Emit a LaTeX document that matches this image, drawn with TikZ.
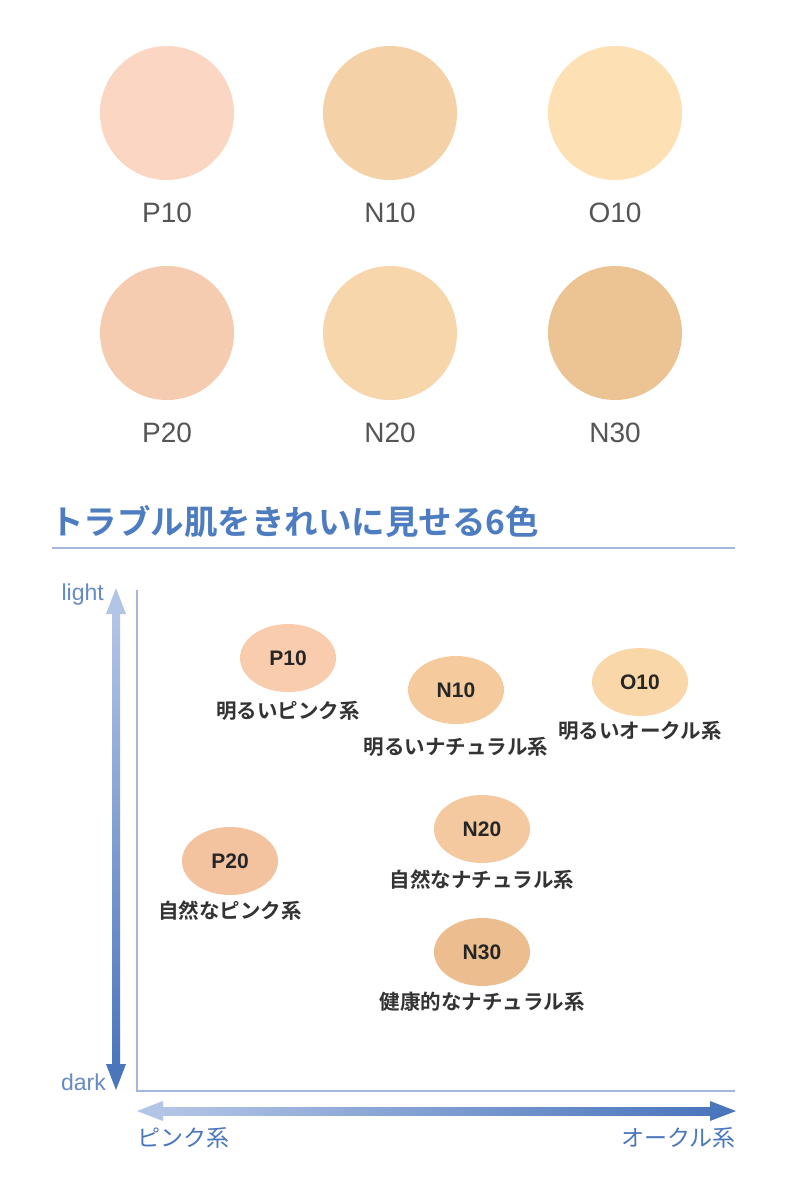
\documentclass[tikz,border=0pt]{standalone}
\usepackage{fontspec}
\usepackage{tikz}
\usetikzlibrary{calc}
\usetikzlibrary{positioning, shapes.geometric}

\newfontfamily\jpfont[BoldFont={Noto Sans CJK JP Bold}]{Noto Sans CJK JP}
\newfontfamily\lafont{Liberation Sans}

\definecolor{axislight}{HTML}{B3C5E6}
\definecolor{axisdark}{HTML}{4A76BC}
\definecolor{axisline}{HTML}{A3B6DC}
\definecolor{titleblue}{HTML}{4D7CC1}
\definecolor{namegray}{HTML}{555555}
% swatches, top rows
\definecolor{swP10}{HTML}{FBD6C3}
\definecolor{swN10}{HTML}{F4D1A7}
\definecolor{swO10}{HTML}{FDE1B4}
\definecolor{swP20}{HTML}{F6CCB0}
\definecolor{swN20}{HTML}{F8D6AC}
\definecolor{swN30}{HTML}{ECC494}
% spots in the chart
\definecolor{spP10}{HTML}{F8CCAC}
\definecolor{spN10}{HTML}{F5CA9D}
\definecolor{spO10}{HTML}{FAD7A8}
\definecolor{spP20}{HTML}{F3C29E}
\definecolor{spN20}{HTML}{F4C99F}
\definecolor{spN30}{HTML}{ECBE8F}

\begin{document}
\begin{tikzpicture}[x=1pt,y=-1pt,
    swatch/.style={circle, minimum size=134pt, inner sep=0pt},
    swname/.style={font=\lafont\fontsize{28}{28}\selectfont, text=namegray},
    spot/.style={ellipse, minimum width=96pt, minimum height=68pt, inner sep=0pt,
                 font=\lafont\bfseries\fontsize{21}{21}\selectfont, text=black!85},
    spotlabel/.style={font=\jpfont\bfseries\fontsize{20.5}{20.5}\selectfont, text=black!80},
    axislabel/.style={font=\jpfont\fontsize{23}{23}\selectfont, text=axisdark, inner sep=0pt},
    lightdark/.style={font=\lafont\fontsize{23}{23}\selectfont, text=axisdark!85, inner sep=0pt}]
  \useasboundingbox (0,0) rectangle (798,1200);
  \fill[white] (0,0) rectangle (798,1200);

  % swatches
  \node[swatch, fill=swP10] (sw-p10) at (167,113) {};
  \node[swatch, fill=swN10] (sw-n10) at (390,113) {};
  \node[swatch, fill=swO10] (sw-o10) at (615,113) {};
  \node[swatch, fill=swP20] (sw-p20) at (167,333) {};
  \node[swatch, fill=swN20] (sw-n20) at (390,333) {};
  \node[swatch, fill=swN30] (sw-n30) at (615,333) {};

  \node[swname] (nm-p10) at ($ (sw-p10) + (0,100) $) {P10};
  \node[swname] (nm-n10) at ($ (sw-n10) + (0,100) $) {N10};
  \node[swname] (nm-o10) at ($ (sw-o10) + (0,100) $) {O10};
  \node[swname] (nm-p20) at ($ (sw-p20) + (0,100) $) {P20};
  \node[swname] (nm-n20) at ($ (sw-n20) + (0,100) $) {N20};
  \node[swname] (nm-n30) at ($ (sw-n30) + (0,100) $) {N30};

  % title and rule
  \node[anchor=west, inner sep=0pt, text=titleblue,
        font=\jpfont\bfseries\fontsize{33.5}{33.5}\selectfont] (title) at (50,522)
        {トラブル肌をきれいに見せる6色};
  \coordinate (rule-l) at (52,548);
  \coordinate (rule-r) at (735,548);
  \draw[axisline, line width=1.6pt] (rule-l) -- (rule-r);

  % axes
  \coordinate (ytop)   at (137,590);
  \coordinate (origin) at (137,1091);
  \coordinate (xend)   at (735,1091);
  \draw[axisline, line width=2.2pt] (ytop) -- (origin) -- (xend);

  \coordinate (light-tip) at (116,588);
  \coordinate (dark-tip)  at (116,1090);
  \shade[top color=axislight, bottom color=axisdark]
        ($ (light-tip) + (-4,24) $) rectangle ($ (dark-tip) + (4,-24) $);
  \fill[axislight] (light-tip) -- ++(-10,26) -- ++(20,0) -- cycle;
  \fill[axisdark]  (dark-tip)  -- ++(-10,-26) -- ++(20,0) -- cycle;

  \coordinate (pink-tip)  at (137,1111);
  \coordinate (ochre-tip) at (736,1111);
  \shade[left color=axislight, right color=axisdark]
        ($ (pink-tip) + (24,-4) $) rectangle ($ (ochre-tip) + (-24,4) $);
  \fill[axislight] (pink-tip)  -- ++(26,-10) -- ++(0,20) -- cycle;
  \fill[axisdark]  (ochre-tip) -- ++(-26,-10) -- ++(0,20) -- cycle;

  \node[lightdark, anchor=east] (lb-light) at (104,595)  {light};
  \node[lightdark, anchor=east] (lb-dark)  at (106,1082) {dark};
  \node[axislabel, anchor=west] (lb-pink)  at (137,1138) {ピンク系};
  \node[axislabel, anchor=east] (lb-ochre) at (736,1138) {オークル系};

  % spots
  \node[spot, fill=spP10] (pt-p10) at (288,658) {P10};
  \node[spot, fill=spN10] (pt-n10) at (456,690) {N10};
  \node[spot, fill=spO10] (pt-o10) at (640,682) {O10};
  \node[spot, fill=spP20] (pt-p20) at (230,861) {P20};
  \node[spot, fill=spN20] (pt-n20) at (482,829) {N20};
  \node[spot, fill=spN30] (pt-n30) at (482,952) {N30};

  \node[spotlabel] (tx-p10) at ($ (pt-p10) + (0,53) $) {明るいピンク系};
  \node[spotlabel] (tx-n10) at ($ (pt-n10) + (0,57) $) {明るいナチュラル系};
  \node[spotlabel] (tx-o10) at ($ (pt-o10) + (0,49) $) {明るいオークル系};
  \node[spotlabel] (tx-p20) at ($ (pt-p20) + (0,50) $) {自然なピンク系};
  \node[spotlabel] (tx-n20) at ($ (pt-n20) + (0,51) $) {自然なナチュラル系};
  \node[spotlabel] (tx-n30) at ($ (pt-n30) + (0,50) $) {健康的なナチュラル系};
\end{tikzpicture}
\end{document}
